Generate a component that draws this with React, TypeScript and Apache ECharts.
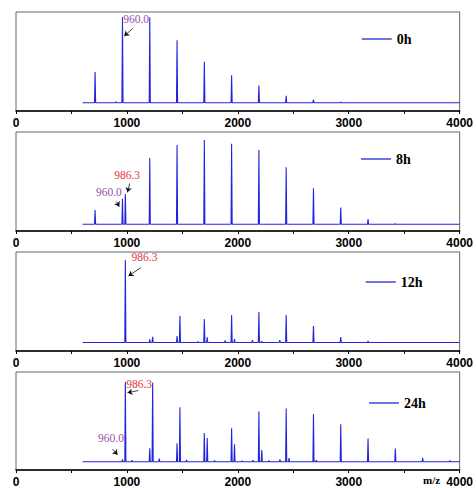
import React, { useEffect, useRef } from "react";
import * as echarts from "echarts";

// ---- data ----
const panelNames = ["0h", "8h", "12h", "24h"];

const mz0 = [713, 901, 960, 1206, 1452, 1698, 1944, 2190, 2436, 2682, 2928];
const int0 = [36, 1.2, 100, 100, 73, 48, 32, 20, 8, 3.5, 0.8];

const mz8 = [713, 960, 986, 1206, 1452, 1698, 1944, 2190, 2436, 2682, 2928, 3174, 3420];
const int8 = [17, 30.4, 36, 78.6, 94, 100, 95.6, 88, 67.6, 42.7, 20, 6.3, 0.8];

const mz12 = [986, 1206, 1232, 1452, 1478, 1640, 1698, 1724, 1886, 1944, 1970, 2132, 2190, 2216, 2378, 2436, 2682, 2928, 3174];
const int12 = [100, 3.9, 7, 7.9, 32.5, 1.2, 28.5, 6.3, 2.7, 33.3, 4.2, 3, 37, 1.5, 3, 33.3, 20, 6.7, 1.8];

const mz24 = [960, 986, 1047, 1206, 1232, 1292, 1452, 1478, 1538, 1698, 1724, 1790, 1944, 1970, 2040, 2136, 2190, 2216, 2280, 2380, 2436, 2462, 2682, 2708, 2928, 3174, 3420, 3666, 3912];
const int24 = [3, 100, 1.9, 17, 98.8, 4.1, 23.3, 68.4, 2.5, 35.7, 29.9, 1.6, 41.9, 22, 1.2, 2.1, 63, 14.6, 1.6, 2.9, 66.8, 4.6, 59.7, 1.9, 46.9, 29.1, 16.7, 5, 1.7];

const xTicks = [0, 1000, 2000, 3000, 4000];
const scanStart = 600;
const scanEnd = 4000;

// annotations: [label, textX, textY, arrowFromX, arrowFromY, arrowToX, arrowToY] in data units
const notes0 = [["960.0", 1083, 98, 1053, 87, 975, 78]];
const notes8 = [
  ["960.0", 837, 38.3, 906, 26.8, 931, 20.8],
  ["986.3", 1002, 58.5, 1026, 48.6, 1005, 37.9],
];
const notes12 = [["986.3", 1159, 103.3, 1125, 90.7, 1014, 80.6]];
const notes24 = [
  ["986.3", 1110, 97.5, 1103, 89.2, 1005, 86.4],
  ["960.0", 857, 30.2, 871, 15.7, 915, 8.7],
];

// ---- layout ----
const gridTops = [12, 132, 252, 372];
const gridHeight = 99;
const yRanges = [
  [-9.7, 106.2],
  [-8, 109.5],
  [-10.3, 109.7],
  [-10.3, 112.4],
];
const legendPos = [
  [361.7, 32],
  [361, 152],
  [365.7, 275],
  [369, 396],
];

const BLUE = "#2424dc";
const PURPLE = "#9a4fa6";
const RED = "#e2383c";

function spectrum(mz: number[], ints: number[]) {
  const pts: number[][] = [[scanStart, 0]];
  mz.forEach((m, i) => {
    pts.push([m - 5, 0], [m, ints[i]], [m + 5, 0]);
  });
  pts.push([scanEnd, 0]);
  return pts;
}

export default function App() {
  const ref = useRef<HTMLDivElement>(null);

  useEffect(() => {
    if (!ref.current) return;
    const chart = echarts.init(ref.current, null, { renderer: "svg" });
    const mzs = [mz0, mz8, mz12, mz24];
    const ints = [int0, int8, int12, int24];
    const notes = [notes0, notes8, notes12, notes24];

    const grids = gridTops.map((t) => ({
      left: 16,
      top: t,
      width: 447,
      height: gridHeight,
      show: true,
      borderColor: "#666",
      borderWidth: 1,
      backgroundColor: "transparent",
    }));

    const xAxes = gridTops.map((_, i) => ({
      type: "value",
      gridIndex: i,
      min: 0,
      max: 4000,
      interval: 500,
      axisLine: { show: true, onZero: false, lineStyle: { color: "#000", width: 1.5 } },
      axisTick: { show: true, length: 3, inside: false, lineStyle: { color: "#000", width: 1 } },
      splitLine: { show: false },
      axisLabel: {
        margin: 6,
        color: "#000",
        fontFamily: "Liberation Sans, Arial, sans-serif",
        fontWeight: "bold",
        fontSize: 12,
        formatter: (v: number) => (xTicks.indexOf(v) >= 0 ? String(v) : ""),
      },
    }));

    const yAxes = gridTops.map((_, i) => ({
      type: "value",
      gridIndex: i,
      min: yRanges[i][0],
      max: yRanges[i][1],
      show: false,
      splitLine: { show: false },
    }));

    const series = panelNames.map((name, i) => ({
      name,
      type: "line",
      xAxisIndex: i,
      yAxisIndex: i,
      data: spectrum(mzs[i], ints[i]),
      showSymbol: false,
      symbol: "none",
      lineStyle: { color: BLUE, width: 1.1 },
      itemStyle: { color: BLUE },
      markLine: {
        silent: true,
        symbol: ["none", "arrow"],
        symbolSize: 5,
        lineStyle: { color: "#111", width: 0.8, type: "solid" },
        label: { show: false },
        data: notes[i].map((n: any[]) => [
          { coord: [n[3], n[4]] },
          { coord: [n[5], n[6]] },
        ]),
      },
      markPoint: {
        silent: true,
        data: notes[i].map((n: any[]) => ({
          coord: [n[1], n[2]],
          symbol: "rect",
          symbolSize: 1,
          itemStyle: { color: "rgba(0,0,0,0)" },
          label: {
            show: true,
            position: "inside",
            formatter: n[0],
            color: n[0] === "960.0" ? PURPLE : RED,
            fontFamily: "Liberation Serif, Times New Roman, serif",
            fontSize: 11.5,
          },
        })),
      },
    }));

    const legends = panelNames.map((name, i) => ({
      data: [name],
      left: legendPos[i][0],
      top: legendPos[i][1],
      padding: 0,
      icon: "rect",
      itemWidth: 30,
      itemHeight: 1.3,
      itemGap: 4,
      selectedMode: false,
      textStyle: {
        color: "#000",
        fontFamily: "Liberation Serif, Times New Roman, serif",
        fontWeight: "bold",
        fontSize: 14,
        padding: [0, 0, 0, 0],
      },
    }));

    chart.setOption({
      animation: false,
      backgroundColor: "#fff",
      grid: grids,
      xAxis: xAxes,
      yAxis: yAxes,
      legend: legends,
      series,
      graphic: [
        {
          type: "text",
          left: 423,
          top: 474,
          style: {
            text: "m/z",
            fill: "#000",
            font: "bold 11px 'Liberation Serif', serif",
          },
        },
      ],
    });

    return () => chart.dispose();
  }, []);

  return (
    <div
      ref={ref}
      style={{ position: "fixed", left: 0, top: 0, width: 476, height: 488 }}
    />
  );
}
